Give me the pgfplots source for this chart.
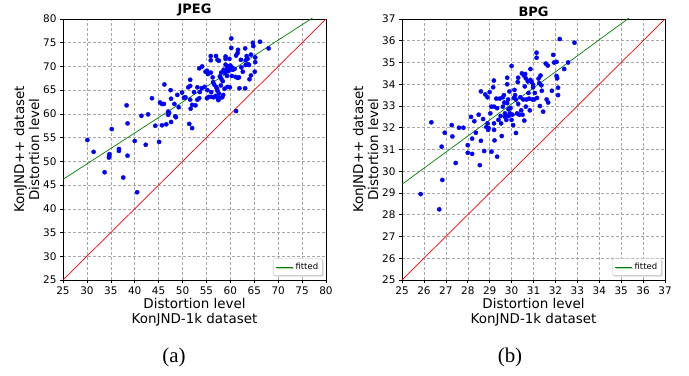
\documentclass[border=0pt]{standalone}
\usepackage{pgfplots}
\pgfplotsset{compat=1.18}
\usetikzlibrary{shadows}
\usepackage{fontspec}
\setmainfont{DejaVu Sans}
\newfontfamily\serifa{Liberation Serif}
\definecolor{mplgreen}{RGB}{0,128,0}
\begin{document}
\begin{tikzpicture}
\path[use as bounding box] (0,0) rectangle (689bp,376bp);
\pgfplotsset{
  myax/.style={
    scale only axis, width=263bp, height=261bp, anchor=south west,
    /pgf/number format/assume math mode=true,
    tick label style={font=\fontsize{10.5}{12}\selectfont},
    label style={font=\fontsize{13.5}{15}\selectfont, align=center},
    title style={font=\fontsize{13}{14}\selectfont\bfseries, yshift=-7bp},
    grid=major, grid style={gray!70, densely dashed, line width=0.5pt},
    tick align=outside, major tick length=3bp, tick style={black, line width=0.6pt},
    axis line style={line width=0.8pt},
    xtick pos=bottom, ytick pos=left,
    legend style={at={(0.988,0.016)}, anchor=south east, font=\fontsize{8.5}{9}\selectfont, draw=gray!50, rounded corners=1.5bp, inner sep=2.5bp, drop shadow={shadow xshift=1bp, shadow yshift=-1bp, opacity=0.3}},
    legend image post style={line width=0.9pt},
    legend cell align=left,
    xlabel={Distortion level\\KonJND-1k dataset},
    ylabel={KonJND++ dataset\\Distortion level},
    xlabel style={yshift=3bp},
    ylabel style={yshift=-3bp},
  },
  dots/.style={only marks, mark=*, mark size=2.1bp, color=blue, mark options={fill=blue, draw=blue}, forget plot},
}
\begin{axis}[myax, at={(63bp,96bp)}, title={JPEG},
  xmin=25, xmax=80, ymin=25, ymax=80, xtick={25,30,...,80}, ytick={25,30,...,80}]
\addplot[dots] coordinates {
(30.1,54.5) (31.4,52.0) (33.7,47.7) (35.2,56.8) (34.7,51.5) (34.7,51.1) (34.6,50.8)
(36.7,52.6) (36.7,52.2) (37.6,46.6) (38.3,61.8) (38.5,58.0) (38.5,51.2) (40.0,54.3)
(40.5,43.5) (41.4,59.6) (42.3,53.5) (42.8,59.9) (43.6,63.3) (44.3,57.5) (45.1,54.1)
(45.3,62.4) (45.7,62.1) (46.1,62.1) (46.2,66.2) (45.7,57.6) (46.6,57.8) (47.0,60.5)
(47.2,60.2) (47.0,59.8) (47.5,65.0) (47.6,63.2) (47.6,58.3) (48.3,62.1) (48.5,59.5)
(48.6,59.3) (48.9,64.0) (49.2,61.4) (49.9,64.5) (50.3,63.4) (50.6,63.5) (51.2,65.6)
(51.6,67.2) (51.6,65.9) (51.4,57.9) (52.0,57.0) (51.6,63.0) (51.7,61.1) (52.0,61.9)
(52.7,61.8) (53.1,65.6) (53.1,63.0) (53.5,63.3) (53.5,69.6) (54.1,70.0) (54.0,65.4)
(54.8,68.9) (55.1,69.1) (55.3,68.4) (54.6,65.7) (55.2,65.0) (55.5,63.6) (55.1,63.3)
(55.9,72.2) (55.9,71.3) (55.9,68.7) (56.3,67.7) (56.0,64.6) (56.0,63.6) (56.5,63.5)
(56.9,63.8) (56.4,66.7) (57.0,72.2) (57.3,71.4) (57.6,71.2) (57.0,65.7) (57.2,65.3)
(57.3,64.9) (57.6,64.3) (57.4,63.2) (57.5,62.9) (57.8,67.9) (58.1,67.4) (58.4,66.9)
(58.0,66.0) (58.3,63.5) (58.5,64.0) (59.0,72.1) (59.0,71.6) (59.0,70.4) (59.3,69.6)
(59.0,69.1) (59.6,69.0) (58.9,68.6) (59.3,68.0) (59.4,65.7) (59.9,65.6) (60.2,75.9)
(60.2,73.9) (59.8,71.6) (59.9,69.6) (60.3,69.8) (60.5,69.3) (60.3,68.0) (61.2,60.6)
(61.2,72.3) (61.5,72.8) (61.6,73.5) (61.1,67.8) (61.5,67.6) (61.8,67.7) (61.9,65.4)
(62.2,71.4) (62.3,69.8) (62.6,68.9) (63.1,73.8) (63.2,71.3) (63.4,72.2) (63.6,71.6)
(63.2,70.3) (63.1,65.4) (63.7,70.5) (63.9,70.3) (64.0,67.3) (64.3,68.1) (64.3,72.5)
(64.7,75.0) (64.8,74.3) (65.2,71.9) (65.2,70.9) (65.1,68.9) (66.2,75.2) (68.0,73.8)
(58.6,69.3) (59.6,70.0) (60.0,70.2) (56.6,66.2) (57.8,63.4) (58.8,65.3) (52.4,64.6)
(53.6,64.6) (58.1,68.7) (60.9,69.5)
};
\addplot[mplgreen, line width=0.7pt] coordinates {(25,46.2) (80,82.06)};
\addlegendentry{fitted}
\addplot[red, line width=0.7pt, forget plot] coordinates {(25,25) (80,80)};
\end{axis}
\begin{axis}[myax, at={(402bp,96bp)}, title={BPG},
  xmin=25, xmax=37, ymin=25, ymax=37, xtick={25,...,37}, ytick={25,...,37}]
\addplot[dots] coordinates {
(25.85,28.95) (26.7,28.25) (26.34,32.25) (26.84,29.6) (26.81,31.13) (26.95,31.77)
(27.45,30.38) (27.27,32.12) (27.3,31.6) (27.6,32.0) (27.8,32.0) (28.0,31.2) (28.0,30.85)
(28.15,32.5) (28.2,30.8) (28.2,31.5) (28.3,32.3) (28.37,31.77) (28.55,30.28) (28.6,31.4)
(28.6,33.67) (28.5,32.6) (28.7,32.4) (28.75,30.93) (28.8,33.53) (28.85,32.03) (28.9,33.4)
(28.9,32.2) (28.93,31.9) (28.95,31.98) (29.0,33.64) (29.03,32.66) (29.08,32.97) (29.08,30.9)
(29.16,33.86) (29.19,34.17) (29.2,32.2) (29.2,32.97) (29.22,31.42) (29.2,31.9) (29.34,30.67)
(29.3,33.34) (29.34,32.9) (29.4,32.36) (29.46,33.34) (29.5,32.54) (29.52,32.2) (29.55,31.62)
(29.6,33.4) (29.6,32.97) (29.65,33.5) (29.67,33.16) (29.7,32.66) (29.7,32.5) (29.76,32.36)
(29.8,34.3) (29.8,34.0) (29.8,33.13) (29.84,33.3) (29.86,32.85) (29.87,32.54) (29.9,33.67)
(29.92,32.66) (29.95,32.9) (30.0,34.84) (30.0,32.36) (30.04,32.6) (30.07,32.12) (30.1,33.37)
(30.13,33.74) (30.16,33.5) (30.2,33.3) (30.2,31.76) (30.25,32.66) (30.28,34.1) (30.3,34.3)
(30.3,33.1) (30.35,32.6) (30.4,33.4) (30.44,32.8) (30.47,34.5) (30.5,32.6) (30.53,33.3)
(30.56,34.4) (30.58,32.33) (30.6,33.9) (30.62,34.47) (30.65,34.27) (30.65,32.97) (30.68,33.3)
(30.74,34.13) (30.77,33.6) (30.8,33.34) (30.83,32.8) (30.86,34.7) (30.86,34.2) (30.92,34.1)
(30.95,33.3) (30.98,33.98) (30.98,33.86) (31.03,33.3) (31.06,33.6) (31.14,35.45) (31.14,35.22)
(31.16,33.37) (31.23,34.26) (31.26,34.05) (31.29,33.0) (31.32,34.4) (31.36,33.95) (31.38,33.7)
(31.44,32.74) (31.56,34.95) (31.6,33.3) (31.67,33.16) (31.65,34.86) (31.84,33.7) (31.9,35.35)
(31.94,35.0) (32.05,35.03) (32.05,34.38) (32.08,34.27) (32.12,33.84) (32.12,33.5) (32.2,36.08)
(32.4,34.7) (32.58,35.0) (32.87,35.91)
};
\addplot[mplgreen, line width=0.7pt] coordinates {(25,29.4) (37,38.26)};
\addlegendentry{fitted}
\addplot[red, line width=0.7pt, forget plot] coordinates {(25,25) (37,37)};
\end{axis}
\node[font=\serifa\fontsize{21}{22}\selectfont] at (174bp,19bp) {(a)};
\node[font=\serifa\fontsize{21}{22}\selectfont] at (510bp,19bp) {(b)};
\end{tikzpicture}
\end{document}
